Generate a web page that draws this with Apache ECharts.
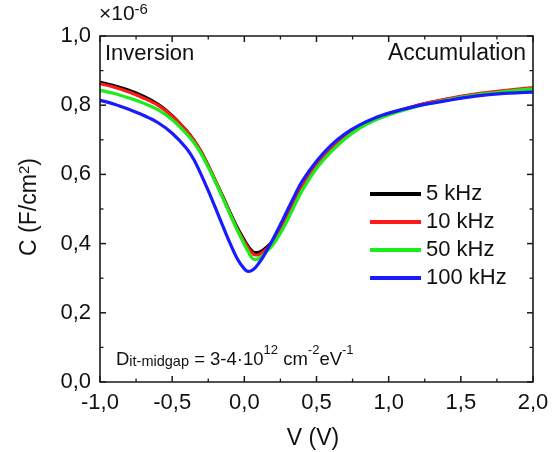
<!DOCTYPE html>
<html><head><meta charset="utf-8">
<script src="https://cdn.jsdelivr.net/npm/echarts@6/dist/echarts.min.js"></script>
<style>html,body{margin:0;padding:0;background:#fff}#c{width:558px;height:452px}</style>
</head><body><div id="c"></div>
<script>
// Voltage (V)
const voltage = [-1.0,-0.9,-0.8,-0.7,-0.6,-0.5,-0.4,-0.35,-0.3,-0.25,-0.2,-0.15,-0.1,-0.05,0,0.025,0.05,0.075,0.1,0.125,0.15,0.2,0.25,0.3,0.35,0.4,0.5,0.6,0.7,0.8,0.9,1.0,1.2,1.4,1.6,1.8,2.0];
// Capacitance (x1e-6 F/cm^2)
const c5k   = [0.866,0.856,0.843,0.826,0.803,0.770,0.726,0.699,0.666,0.625,0.581,0.537,0.491,0.447,0.410,0.393,0.380,0.374,0.375,0.380,0.388,0.408,0.440,0.479,0.522,0.562,0.624,0.670,0.708,0.737,0.759,0.774,0.799,0.817,0.831,0.840,0.848];
const c10k  = [0.862,0.852,0.838,0.821,0.800,0.768,0.725,0.698,0.665,0.624,0.580,0.535,0.488,0.443,0.405,0.388,0.374,0.367,0.368,0.374,0.383,0.405,0.438,0.478,0.522,0.563,0.625,0.671,0.709,0.738,0.760,0.775,0.800,0.818,0.832,0.842,0.851];
const c50k  = [0.843,0.834,0.821,0.806,0.787,0.758,0.717,0.692,0.660,0.621,0.578,0.533,0.486,0.440,0.398,0.378,0.360,0.354,0.357,0.365,0.375,0.398,0.430,0.469,0.512,0.553,0.617,0.665,0.704,0.734,0.756,0.772,0.797,0.815,0.829,0.839,0.847];
const c100k = [0.814,0.803,0.788,0.771,0.750,0.719,0.675,0.643,0.600,0.553,0.503,0.452,0.402,0.357,0.327,0.320,0.322,0.330,0.343,0.358,0.376,0.414,0.455,0.498,0.540,0.580,0.638,0.684,0.718,0.743,0.762,0.777,0.798,0.813,0.826,0.834,0.838];
const seriesNames = ['5 kHz','10 kHz','50 kHz','100 kHz'];
const seriesColors = ['#000000','#ff1a1a','#1aee1a','#1a1aff'];
// Tick values
const xTicks = [-1.0,-0.5,0,0.5,1.0,1.5,2.0];
const xMinorTicks = [-0.75,-0.25,0.25,0.75,1.25,1.75];
const yTicks = [0,0.2,0.4,0.6,0.8,1.0];
const yMinorTicks = [0.1,0.3,0.5,0.7,0.9];

const FONT = '"Liberation Sans", Arial, sans-serif';
const fmt = v => v.toFixed(1).replace('.', ',');
const seriesData = [c5k, c10k, c50k, c100k];
const X0 = xTicks[0], X1 = xTicks[xTicks.length-1], Y0 = yTicks[0], Y1 = yTicks[yTicks.length-1];
const FRAME = '#1a1a1a';

// Frame/tick items: [side, value, major]; side 0=bottom 1=top 2=left 3=right 4=box
const frameItems = [[4, 0, 1]];
[0, 1].forEach(s => {
  xTicks.forEach(v => frameItems.push([s, v, 1]));
  xMinorTicks.forEach(v => frameItems.push([s, v, 0]));
});
[2, 3].forEach(s => {
  yTicks.forEach(v => frameItems.push([s, v, 1]));
  yMinorTicks.forEach(v => frameItems.push([s, v, 0]));
});

function renderFrame(params, api) {
  const side = api.value(0), v = api.value(1), major = api.value(2);
  const len = major ? 6 : 3.5;
  if (side === 4) {
    const a = api.coord([X0, Y1]), b = api.coord([X1, Y0]);
    return {type: 'rect', shape: {x: a[0], y: a[1], width: b[0] - a[0], height: b[1] - a[1]},
      style: {fill: null, stroke: FRAME, lineWidth: 1.6}};
  }
  let p, shape;
  if (side === 0) { p = api.coord([v, Y0]); shape = {x1: p[0], y1: p[1], x2: p[0], y2: p[1] - len}; }
  else if (side === 1) { p = api.coord([v, Y1]); shape = {x1: p[0], y1: p[1], x2: p[0], y2: p[1] + len}; }
  else if (side === 2) { p = api.coord([X0, v]); shape = {x1: p[0], y1: p[1], x2: p[0] + len, y2: p[1]}; }
  else { p = api.coord([X1, v]); shape = {x1: p[0], y1: p[1], x2: p[0] - len, y2: p[1]}; }
  return {type: 'line', shape: shape, style: {stroke: FRAME, lineWidth: major ? 1.5 : 1.3}};
}

function mkAxis(dim, pos, interval, withLabel) {
  const isX = dim === 'x';
  return {
    type: 'value', position: pos,
    min: isX ? X0 : Y0, max: isX ? X1 : Y1,
    interval: interval,
    axisLine: {show: false, onZero: false},
    axisTick: {show: false},
    axisLabel: withLabel ? {show: true, formatter: fmt, color: '#111', fontSize: 22, fontFamily: FONT, margin: isX ? 10 : 9} : {show: false},
    splitLine: {show: false}
  };
}

const chart = echarts.init(document.getElementById('c'), null, {renderer: 'canvas'});
const series = seriesNames.map((n, i) => ({
  name: n, type: 'line', xAxisIndex: 0, yAxisIndex: 0,
  data: voltage.map((v, k) => [v, seriesData[i][k]]),
  showSymbol: false, symbol: 'none', smooth: 0.35,
  lineStyle: {color: seriesColors[i], width: 3.2},
  itemStyle: {color: seriesColors[i]}
}));
series.push({
  name: 'frame', type: 'custom', xAxisIndex: 0, yAxisIndex: 0, silent: true, clip: false,
  dimensions: ['side', 'v', 'major'], encode: {x: 1, y: 1},
  data: frameItems, renderItem: renderFrame, z: 10
});

chart.setOption({
  animation: false,
  grid: {left: 100, right: 25, top: 36, bottom: 70},
  xAxis: [mkAxis('x', 'bottom', 0.5, true)],
  yAxis: [mkAxis('y', 'left', 0.2, true)],
  legend: {
    orient: 'vertical', left: 365, top: 178,
    data: seriesNames.map(n => ({name: n, icon: 'rect'})),
    itemWidth: 51, itemHeight: 4, itemGap: 6,
    textStyle: {fontSize: 22, fontFamily: FONT, color: '#111'},
    itemStyle: {borderWidth: 0}
  },
  series: series,
  graphic: [
    {type: 'text', left: 99, top: 2, style: {
      rich: {m: {fontSize: 21, fontFamily: FONT, fill: '#111'}, s: {fontSize: 15, fontFamily: FONT, fill: '#111', verticalAlign: 'top', padding: [0,0,10,0]}},
      text: '{m|×10}{s|-6}'}},
    {type: 'text', left: 105, top: 43, style: {text: 'Inversion', fontSize: 22, fontFamily: FONT, fill: '#111'}},
    {type: 'text', right: 32, top: 42, style: {text: 'Accumulation', fontSize: 23, fontFamily: FONT, fill: '#111'}},
    {type: 'text', left: 116, top: 344, style: {
      rich: {
        m: {fontSize: 18.5, fontFamily: FONT, fill: '#111', verticalAlign: 'bottom'},
        sub: {fontSize: 14.5, fontFamily: FONT, fill: '#111', verticalAlign: 'bottom', padding: [10,0,0,0]},
        sup: {fontSize: 13, fontFamily: FONT, fill: '#111', verticalAlign: 'top', padding: [0,0,9,0]}
      },
      text: '{m|D}{sub|it-midgap}{m| = 3-4·10}{sup|12}{m| cm}{sup|-2}{m|eV}{sup|-1}'}},
    {type: 'text', x: 313, y: 439, style: {text: 'V (V)', fontSize: 23, fontFamily: FONT, fill: '#111', align: 'center', verticalAlign: 'middle'}},
    {type: 'text', x: 30, y: 207, rotation: Math.PI/2, style: {
      rich: {m: {fontSize: 23, fontFamily: FONT, fill: '#111'}, s: {fontSize: 15, fontFamily: FONT, fill: '#111', verticalAlign: 'top', padding: [0,0,10,0]}},
      text: '{m|C (F/cm}{s|2}{m|)}', align: 'center', verticalAlign: 'middle'}}
  ]
});
</script></body></html>
